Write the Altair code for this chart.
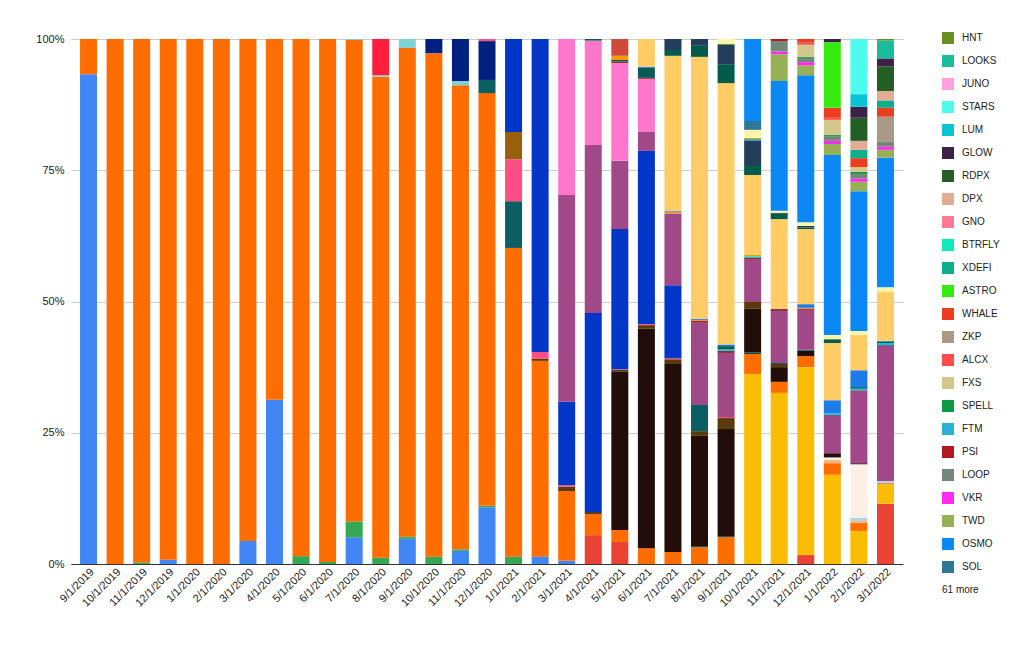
import altair as alt
import pandas as pd

MONTHS = ["9/1/2019", "10/1/2019", "11/1/2019", "12/1/2019", "1/1/2020", "2/1/2020",
          "3/1/2020", "4/1/2020", "5/1/2020", "6/1/2020", "7/1/2020", "8/1/2020",
          "9/1/2020", "10/1/2020", "11/1/2020", "12/1/2020", "1/1/2021", "2/1/2021",
          "3/1/2021", "4/1/2021", "5/1/2021", "6/1/2021", "7/1/2021", "8/1/2021",
          "9/1/2021", "10/1/2021", "11/1/2021", "12/1/2021", "1/1/2022", "2/1/2022",
          "3/1/2022"]

# share (%) per month index, one small dict per series, listed bottom -> top of the stack
s01 = {0: 93.3, 3: 0.8, 6: 4.4, 7: 31.3, 10: 5.1, 12: 4.8, 14: 2.5, 15: 10.8, 17: 1.4, 18: 0.6}
s02 = {19: 5.5, 20: 4.2, 27: 1.7, 30: 11.5}
s03 = {25: 36.2, 26: 32.6, 27: 35.8, 28: 17.0, 29: 6.3, 30: 3.7}
s04 = {2: 0.3, 8: 1.5, 9: 0.4, 10: 3.0, 11: 1.2, 12: 0.4, 13: 1.4, 14: 0.3, 15: 0.3, 16: 1.4}
s05 = {0: 6.7, 1: 100, 2: 99.7, 3: 99.2, 4: 100, 5: 100, 6: 95.6, 7: 68.7, 8: 98.5, 9: 99.6,
       10: 91.7, 11: 91.6, 12: 93.1, 13: 95.9, 14: 88.4, 15: 78.6, 16: 58.8, 17: 37.3, 18: 13.3,
       19: 4.0, 20: 2.3, 21: 3.0, 22: 2.3, 23: 3.2, 24: 5.1, 25: 3.8, 26: 2.1, 27: 2.1, 28: 2.2,
       29: 1.5, 30: 0.2}
s06 = {28: 0.6, 29: 0.4}
s07 = {29: 0.6, 30: 0.4}
s08 = {28: 0.5, 29: 10.2}
s09 = {23: 0.2, 24: 0.2, 25: 0.3}
s10 = {10: 0.2, 11: 0.3, 12: 1.7, 14: 0.8}
s11 = {11: 6.9}
s12 = {20: 30.1, 21: 41.8, 22: 35.8, 23: 21.0, 24: 20.4, 25: 8.3, 26: 2.8, 27: 1.0, 28: 0.8, 29: 0.2}
s13 = {17: 0.4, 18: 0.8, 19: 0.4, 20: 0.4, 21: 0.7, 22: 0.9, 23: 0.9, 24: 2.1, 25: 1.3, 26: 0.6}
s14 = {15: 2.5, 16: 8.9, 23: 5.0, 26: 0.2, 27: 0.2}
s15 = {13: 2.7, 14: 8.0, 15: 7.4}
s16 = {15: 0.4, 16: 8.0, 17: 1.3, 18: 0.3, 20: 0.1, 21: 0.2, 22: 0.2, 24: 0.2}
s17 = {16: 5.2}
s18 = {16: 17.7, 17: 59.6, 18: 15.9, 19: 37.9, 20: 26.7, 21: 33.0, 22: 13.9}
s19 = {18: 39.4, 19: 32.0, 20: 13.0, 21: 3.6, 22: 13.6, 23: 15.8, 24: 12.2, 25: 8.2, 26: 9.9,
       27: 7.6, 28: 7.3, 29: 13.9, 30: 25.9}
s20 = {18: 29.7, 19: 19.9, 20: 18.6, 21: 10.1}
s21 = {20: 0.3, 21: 0.2, 23: 0.2, 24: 0.4, 25: 0.2, 26: 0.4, 27: 0.2}
s22 = {24: 0.3, 25: 0.3, 28: 0.3, 29: 0.3, 30: 0.4}
s23 = {19: 0.3, 20: 0.3, 21: 1.9, 24: 0.6, 29: 0.3, 30: 0.3}
s24 = {20: 0.8, 25: 0.3}
s25 = {20: 3.2}
s26 = {22: 0.3, 23: 0.2, 27: 0.2}
s27 = {21: 0.2, 22: 0.2, 23: 0.2, 24: 0.3, 27: 0.7, 28: 2.5, 29: 3.2, 30: 0.1}
s28 = {21: 5.3, 22: 29.6, 23: 49.9, 24: 49.8, 25: 15.2, 26: 17.1, 27: 14.3, 28: 10.9, 29: 6.7, 30: 9.3}
s29 = {22: 1.1, 23: 2.1, 24: 3.6, 25: 1.9, 26: 1.0, 27: 0.3, 28: 0.6}
s30 = {22: 2.1, 23: 1.3, 24: 3.7, 25: 4.6, 26: 0.2, 27: 0.3}
s31 = {25: 0.2}
s32 = {24: 0.2, 25: 0.3, 28: 0.2}
s33 = {24: 0.9, 25: 1.6, 26: 0.4, 27: 0.7, 28: 0.7, 29: 0.8, 30: 0.9}
sol = {25: 1.7}
osmo = {25: 15.6, 26: 24.7, 27: 28.0, 28: 34.3, 29: 26.6, 30: 24.7}
twd = {26: 5.1, 27: 1.9, 28: 2.1, 29: 1.8, 30: 1.5}
vkr = {26: 0.5, 27: 0.6, 28: 0.6, 29: 0.6, 30: 0.6}
loop = {26: 2.0, 27: 0.8, 28: 0.9, 29: 0.9, 30: 0.9}
psi = {26: 0.4}
ftm = {}
spell = {27: 0.2, 28: 0.2, 29: 0.4}
fxs = {27: 2.3, 28: 2.9, 29: 0.9}
alcx = {27: 0.4, 28: 0.4}
zkp = {30: 4.8}
whale = {27: 0.7, 28: 1.9, 29: 1.7, 30: 1.7}
astro = {28: 12.5}
xdefi = {29: 1.6, 30: 1.4}
btrfly = {}
gno = {}
dpx = {29: 1.7, 30: 1.8}
rdpx = {29: 4.4, 30: 4.7}
glow = {28: 0.6, 29: 2.1, 30: 1.5}
lum = {29: 2.4}
stars = {29: 10.5}
juno = {}
looks = {30: 3.4}
hnt = {30: 0.3}

STACK = [
    ("other 01", "#4285F4", s01), ("other 02", "#EA4335", s02), ("other 03", "#FBBC04", s03),
    ("other 04", "#34A853", s04), ("other 05", "#FF6D01", s05), ("other 06", "#FFB27A", s06),
    ("other 07", "#A9D6EA", s07), ("other 08", "#FDEFE4", s08), ("other 09", "#0E4A4A", s09),
    ("other 10", "#7ED1D7", s10), ("other 11", "#FF1F3D", s11), ("other 12", "#230D0A", s12),
    ("other 13", "#5A3A0A", s13), ("other 14", "#0B5F63", s14), ("other 15", "#002080", s15),
    ("other 16", "#FF4D85", s16), ("other 17", "#99600A", s17), ("other 18", "#0236C8", s18),
    ("other 19", "#A04888", s19), ("other 20", "#FF77CC", s20), ("other 21", "#962B2B", s21),
    ("other 22", "#00C8D0", s22), ("other 23", "#0B5B55", s23), ("other 24", "#FF9900", s24),
    ("other 25", "#CF4A3A", s25), ("other 26", "#FF8C1A", s26), ("other 27", "#1E7BE8", s27),
    ("other 28", "#FFCC66", s28), ("other 29", "#005C4A", s29), ("other 30", "#223E5A", s30),
    ("other 31", "#3A8EE0", s31), ("other 32", "#5D8A2A", s32), ("other 33", "#FFF5AA", s33),
    ("SOL", "#2E7896", sol), ("OSMO", "#0A89F5", osmo), ("TWD", "#97B055", twd),
    ("VKR", "#FF2AF0", vkr), ("LOOP", "#74887A", loop), ("PSI", "#B01C1C", psi),
    ("FTM", "#2BB0D6", ftm), ("SPELL", "#0E9A44", spell), ("FXS", "#D4C78C", fxs),
    ("ALCX", "#FF4D4D", alcx), ("ZKP", "#A89A86", zkp), ("WHALE", "#EB3D1F", whale),
    ("ASTRO", "#35EB10", astro), ("XDEFI", "#0BAF8A", xdefi), ("BTRFLY", "#10E8C0", btrfly),
    ("GNO", "#FF7B95", gno), ("DPX", "#E2AC94", dpx), ("RDPX", "#235E24", rdpx),
    ("GLOW", "#3E2147", glow), ("LUM", "#0AC4D6", lum), ("STARS", "#4DFCEE", stars),
    ("JUNO", "#FFA0E0", juno), ("LOOKS", "#1ABC9C", looks), ("HNT", "#6B8E23", hnt),
]

LEGEND_SHOWN = ["HNT", "LOOKS", "JUNO", "STARS", "LUM", "GLOW", "RDPX", "DPX", "GNO",
                "BTRFLY", "XDEFI", "ASTRO", "WHALE", "ZKP", "ALCX", "FXS", "SPELL", "FTM",
                "PSI", "LOOP", "VKR", "TWD", "OSMO", "SOL"]
MORE_TEXT = "61 more"
Y_TICKS = [0, 0.25, 0.5, 0.75, 1]

names = [s[0] for s in STACK]
colors = [s[1] for s in STACK]
rows = []
for k, (name, col, shares) in enumerate(STACK):
    for mi, v in shares.items():
        rows.append({"month": MONTHS[mi], "series": name, "idx": k, "value": v})
df = pd.DataFrame(rows)

FONT = "Liberation Sans"

bars = alt.Chart(df).mark_bar().encode(
    x=alt.X("month:N", sort=MONTHS,
            scale=alt.Scale(paddingInner=0.36, paddingOuter=0.34),
            axis=alt.Axis(title=None, labelAngle=-45, labelAlign="right", labelBaseline="middle",
                          labelFontSize=11, labelColor="#222222", labelFont=FONT,
                          ticks=False, labelPadding=6, labelOffset=4,
                          domainColor="#333333", domainWidth=1, grid=False)),
    y=alt.Y("value:Q", stack="normalize",
            scale=alt.Scale(domain=[0, 1], nice=False),
            axis=alt.Axis(title=None, format=".0%", values=Y_TICKS, labelFontSize=11,
                          labelColor="#222222", labelFont=FONT, ticks=False, domain=False,
                          labelPadding=7, gridColor="#CCCCCC", gridWidth=1)),
    color=alt.Color("series:N", scale=alt.Scale(domain=names, range=colors),
                    legend=alt.Legend(values=LEGEND_SHOWN, title=None, orient="none",
                                      legendX=871, legendY=-7, symbolType="square",
                                      symbolSize=144, symbolStrokeWidth=0, symbolOpacity=1,
                                      labelFontSize=10, labelFont=FONT, labelColor="#222222",
                                      rowPadding=11, labelOffset=8, padding=0)),
    order=alt.Order("idx:Q", sort="ascending"),
)

more = alt.Chart(pd.DataFrame({"t": [MORE_TEXT]})).mark_text(
    align="left", baseline="middle", fontSize=10, font=FONT, color="#222222"
).encode(x=alt.value(871), y=alt.value(551), text="t:N")

chart = alt.layer(bars, more).properties(
    width=832, height=525,
    autosize=alt.AutoSizeParams(type="none"),
    padding={"left": 71, "top": 39, "right": 132, "bottom": 83},
).configure_view(stroke=None)

chart.save("out.html", embed_options={"renderer": "svg", "actions": False})
